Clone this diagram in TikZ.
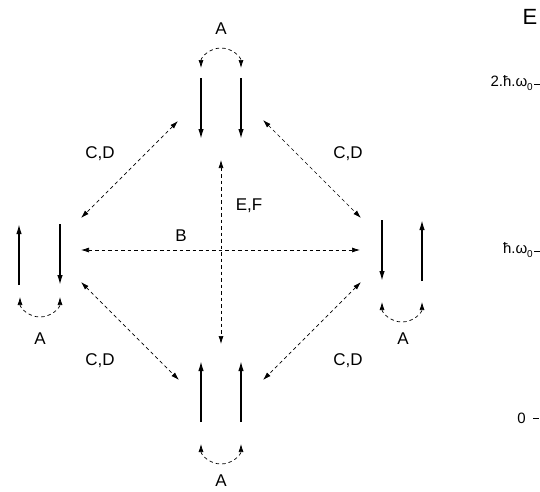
\documentclass[tikz,border=0pt]{standalone}
\usepackage{fontspec}
\setmainfont{Liberation Sans}
\usetikzlibrary{arrows.meta}
\newcommand{\subzero}{\raisebox{-4pt}{\fontsize{10}{11}\selectfont 0}}
\begin{document}
\begin{tikzpicture}[x=1pt,y=-1pt,
  spin/.style={line width=1.5pt,-{Latex[length=10pt,width=5.5pt]}},
  trans/.style={line width=0.7pt,dash pattern=on 3.5pt off 3pt,{Latex[length=8pt,width=5pt]}-{Latex[length=8pt,width=5pt]}},
  lbl/.style={font=\fontsize{17}{19}\selectfont,inner sep=0pt},
  elbl/.style={font=\fontsize{15}{17}\selectfont,inner sep=0pt,anchor=east},
  tick/.style={line width=0.6pt}]
\useasboundingbox (0,0) rectangle (540,491);
% top group
\coordinate (t1s) at (201,78); \coordinate (t1e) at (201,139);
\coordinate (t2s) at (241,78); \coordinate (t2e) at (241,139);
\draw[spin] (t1s) -- (t1e);
\draw[spin] (t2s) -- (t2e);
\coordinate (ta1) at (201,68);
\draw[trans] (ta1) arc[start angle=180,end angle=360,radius=20];
\node[lbl] (tA) at (221,29) {A};
% left group
\coordinate (l1s) at (19,285); \coordinate (l1e) at (19,224);
\coordinate (l2s) at (60,224); \coordinate (l2e) at (60,285);
\draw[spin] (l1s) -- (l1e);
\draw[spin] (l2s) -- (l2e);
\coordinate (la1) at (20,297);
\draw[trans] (la1) arc[start angle=180,end angle=0,radius=20];
\node[lbl] (lA) at (40,339) {A};
% right group
\coordinate (r1s) at (382,220); \coordinate (r1e) at (382,281);
\coordinate (r2s) at (422,281); \coordinate (r2e) at (422,220);
\draw[spin] (r1s) -- (r1e);
\draw[spin] (r2s) -- (r2e);
\coordinate (ra1) at (382,302);
\draw[trans] (ra1) arc[start angle=180,end angle=0,radius=20];
\node[lbl] (rA) at (403,339) {A};
% bottom group
\coordinate (b1s) at (201,422); \coordinate (b1e) at (201,361);
\coordinate (b2s) at (241,422); \coordinate (b2e) at (241,361);
\draw[spin] (b1s) -- (b1e);
\draw[spin] (b2s) -- (b2e);
\coordinate (ba1) at (201,444);
\draw[trans] (ba1) arc[start angle=180,end angle=0,radius=20];
\node[lbl] (bA) at (221,481) {A};
% transitions
\coordinate (dtl1) at (178,121); \coordinate (dtl2) at (81,218);
\coordinate (dtr1) at (263,120); \coordinate (dtr2) at (361,218);
\coordinate (dbl1) at (81,282); \coordinate (dbl2) at (179,380);
\coordinate (dbr1) at (361,282); \coordinate (dbr2) at (263,380);
\coordinate (h1) at (81,250); \coordinate (h2) at (360,250);
\coordinate (v1) at (221,160); \coordinate (v2) at (221,344);
\draw[trans] (dtl1) -- (dtl2);
\draw[trans] (dtr1) -- (dtr2);
\draw[trans] (dbl1) -- (dbl2);
\draw[trans] (dbr1) -- (dbr2);
\draw[trans] (h1) -- (h2);
\draw[trans] (v1) -- (v2);
\node[lbl] (cd1) at (100,154) {C,D};
\node[lbl] (cd2) at (348,154) {C,D};
\node[lbl] (cd3) at (100,361) {C,D};
\node[lbl] (cd4) at (348,361) {C,D};
\node[lbl] (ef) at (249,206) {E,F};
\node[lbl] (bl) at (181,236) {B};
% energy axis
\node[font=\fontsize{22}{24}\selectfont,inner sep=0pt] (E) at (530,17) {E};
\coordinate (k2a) at (534,84); \coordinate (k2b) at (540,84);
\coordinate (k1a) at (534,251); \coordinate (k1b) at (540,251);
\coordinate (k0a) at (533,418); \coordinate (k0b) at (539,418);
\draw[tick] (k2a) -- (k2b);
\draw[tick] (k1a) -- (k1b);
\draw[tick] (k0a) -- (k0b);
\node[elbl] (e2) at (533,83) {2.ħ.ω\subzero};
\node[elbl] (e1) at (533,250) {ħ.ω\subzero};
\node[elbl] (e0) at (526,418) {0};
\end{tikzpicture}
\end{document}
